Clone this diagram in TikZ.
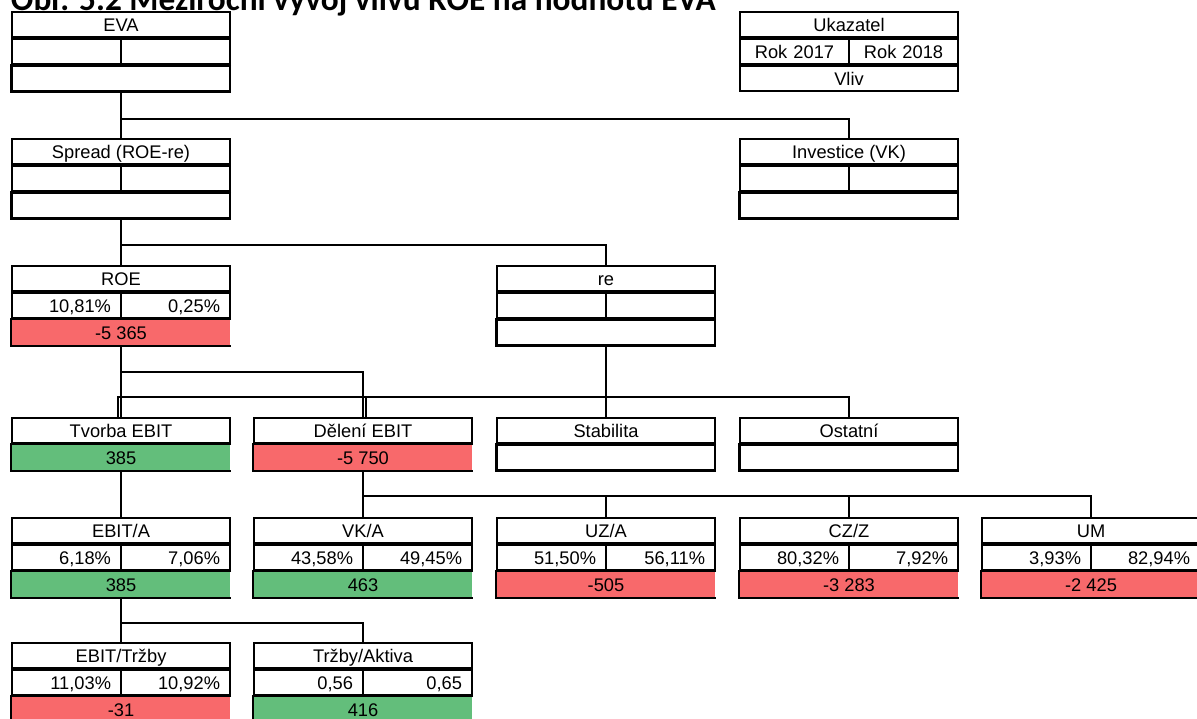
\documentclass[tikz,border=0pt]{standalone}
\usepackage{fontspec}
\setmainfont{Liberation Sans}
\newfontfamily\titlefont{Carlito}
\usepackage{xcolor}
\usepackage{tikz}
\usetikzlibrary{positioning,calc}
\definecolor{EVAred}{RGB}{248,105,107}
\definecolor{EVAgreen}{RGB}{99,190,123}
\newcommand{\cellfont}{\fontsize{13pt}{15pt}\selectfont}
\tikzstyle{cell}   = [rectangle, draw, inner sep=0pt, minimum height=0.625cm,
                      text height=10.5pt, text depth=0pt, font=\cellfont]
\tikzstyle{Bhead}  = [cell, minimum width=5.45cm]
\tikzstyle{Bval}   = [cell, minimum width=2.725cm, text width=2.225cm,
                      inner xsep=0.25cm, align=right]
\tikzstyle{Bimp}   = [rectangle, inner sep=0pt, minimum width=5.45cm,
                      minimum height=0.625cm, text height=10.5pt, text depth=0pt,
                      font=\cellfont]
\tikzstyle{Bnone}  = [Bimp, draw, fill=white]
\tikzstyle{Bplus}  = [Bimp, fill=EVAgreen]
\tikzstyle{Bminus} = [Bimp, fill=EVAred]
% name, x, y, title, 2017, 2018, impact, impact style
\newcommand{\ratiobox}[8]{%
  \node[Bhead, anchor=north west] (#1) at (#2,#3) {#4};
  \node[Bval, anchor=north west] (#1-l) at (#1.south west) {#5};
  \node[Bval, anchor=north east] (#1-r) at (#1.south east) {#6};
  \node[#8, anchor=north west] (#1-v) at (#1-l.south west) {#7};
  \draw (#1-v.north east) -- (#1-v.north west) -- (#1-v.south west) -- (#1-v.south east);
}
% name, x, y, title, impact, impact style
\newcommand{\factorbox}[6]{%
  \node[Bhead, anchor=north west] (#1) at (#2,#3) {#4};
  \node[#6, anchor=north west] (#1-v) at (#1.south west) {#5};
  \draw (#1-v.north east) -- (#1-v.north west) -- (#1-v.south west) -- (#1-v.south east);
}

\begin{document}
\begin{tikzpicture}[x=0.025cm, y=-0.025cm, line width=1.4pt]
  \useasboundingbox (0,0) rectangle (1197,718);
  \node[anchor=base west, inner sep=0pt,
        font={\titlefont\bfseries\fontsize{23.7pt}{28pt}\selectfont}] (title) at (10,10)
        {Obr. 5.2 Meziroční vývoj vlivu ROE na hodnotu EVA};

  % legend
  \node[Bhead, anchor=north west] (legend) at (739,11) {Ukazatel};
  \node[Bval, align=center, anchor=north west] (legend-l) at (legend.south west) {Rok 2017};
  \node[Bval, align=center, anchor=north east] (legend-r) at (legend.south east) {Rok 2018};
  \node[Bnone, anchor=north west] (legend-v) at (legend-l.south west) {Vliv};

  \ratiobox{eva}{11}{11}{EVA}{}{}{}{Bnone}
  \ratiobox{spread}{11}{138}{Spread (ROE-re)}{}{}{}{Bnone}
  \ratiobox{inv}{739}{138}{Investice (VK)}{}{}{}{Bnone}
  \ratiobox{roe}{11}{265}{ROE}{10,81\%}{0,25\%}{-5 365}{Bminus}
  \ratiobox{re}{496}{265}{re}{}{}{}{Bnone}

  \factorbox{tvorba}{11}{417}{Tvorba EBIT}{385}{Bplus}
  \factorbox{deleni}{253}{417}{Dělení EBIT}{-5 750}{Bminus}
  \factorbox{stab}{496}{417}{Stabilita}{}{Bnone}
  \factorbox{ostatni}{739}{417}{Ostatní}{}{Bnone}

  \ratiobox{ebita}{11}{517}{EBIT/A}{6,18\%}{7,06\%}{385}{Bplus}
  \ratiobox{vka}{253}{517}{VK/A}{43,58\%}{49,45\%}{463}{Bplus}
  \ratiobox{uza}{496}{517}{UZ/A}{51,50\%}{56,11\%}{-505}{Bminus}
  \ratiobox{czz}{739}{517}{CZ/Z}{80,32\%}{7,92\%}{-3 283}{Bminus}
  \ratiobox{um}{981}{517}{UM}{3,93\%}{82,94\%}{-2 425}{Bminus}

  \ratiobox{ebitt}{11}{642}{EBIT/Tržby}{11,03\%}{10,92\%}{-31}{Bminus}
  \ratiobox{trzby}{253}{642}{Tržby/Aktiva}{0,56}{0,65}{416}{Bplus}

  \draw (eva-v.south) -- (spread.north);
  \draw (eva-v.south) -- ++(0,27) -| (inv.north);
  \draw (spread-v.south) -- (roe.north);
  \draw (spread-v.south) -- ++(0,26) -| (re.north);
  \draw (roe-v.south) -- (tvorba.north);
  \draw (roe-v.south) -- ++(0,26) -| (deleni.north);
  \draw (re-v.south) -- ++(0,51) -| ([xshift=-0.07cm]tvorba.north);
  \draw (re-v.south) -- ++(0,51) -| ([xshift=0.07cm]deleni.north);
  \draw (re-v.south) -- (stab.north);
  \draw (re-v.south) -- ++(0,51) -| (ostatni.north);
  \draw (tvorba-v.south) -- (ebita.north);
  \draw (deleni-v.south) -- (vka.north);
  \draw (deleni-v.south) -- ++(0,25) -| (uza.north);
  \draw (deleni-v.south) -- ++(0,25) -| (czz.north);
  \draw (deleni-v.south) -- ++(0,25) -| (um.north);
  \draw (ebita-v.south) -- (ebitt.north);
  \draw (ebita-v.south) -- ++(0,25) -| (trzby.north);
\end{tikzpicture}
\end{document}
